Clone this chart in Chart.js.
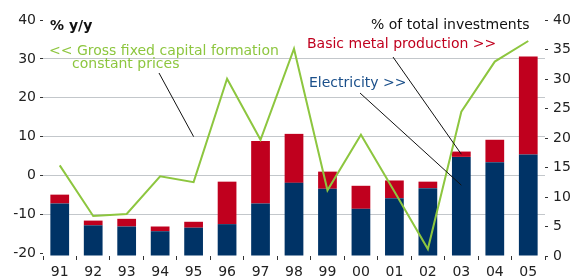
<!DOCTYPE html>
<html>
<head>
<meta charset="utf-8">
<script src="https://cdn.jsdelivr.net/npm/chart.js@4/dist/chart.umd.min.js"></script>
<style>
  html, body { margin: 0; padding: 0; background: #fff; }
  #wrap { width: 579px; height: 278px; }
</style>
</head>
<body>
<div id="wrap"><canvas id="chart"></canvas></div>
<script>
// years on the x axis
const years = ["91", "92", "93", "94", "95", "96", "97", "98", "99", "00", "01", "02", "03", "04", "05"];
// gross fixed capital formation, constant prices, % y/y (left axis)
const gfcf = [2.6, -10.4, -9.9, -0.2, -1.7, 24.9, 9.2, 32.6, -3.8, 10.5, -4.1, -18.9, 16.4, 29.3, 34.6];
// share of total investments, % (right axis)
const electricity = [8.9, 5.2, 5.0, 4.2, 4.8, 5.4, 8.9, 12.4, 11.4, 8.0, 9.8, 11.5, 16.8, 15.9, 17.2];
const basicMetal = [1.5, 0.8, 1.3, 0.8, 1.0, 7.2, 10.6, 8.3, 2.9, 3.9, 3.0, 1.1, 0.9, 3.8, 16.6];
// tick labels
const leftTicks = [-20, -10, 0, 10, 20, 30, 40];
const rightTicks = [0, 5, 10, 15, 20, 25, 30, 35, 40];

const NAVY = "#003366";
const RED = "#c0001e";
const GREEN = "#8dc63f";
const FONT = "DejaVu Sans";

// text labels and leader lines
const notes = {
  id: "notes",
  afterDatasetsDraw(chart) {
    const ctx = chart.ctx;
    const x = chart.scales.x;
    const yL = chart.scales.yL;
    const yR = chart.scales.yR;
    ctx.save();
    ctx.textBaseline = "middle";
    ctx.textAlign = "left";

    ctx.font = "bold 14px " + FONT;
    ctx.fillStyle = "#111";
    ctx.fillText("% y/y", 50, 26);

    ctx.font = "14px " + FONT;
    ctx.fillText("% of total investments", 371, 25);

    ctx.fillStyle = GREEN;
    ctx.fillText("<< Gross fixed capital formation", 49, 51);
    ctx.fillText("constant prices", 72, 64);

    ctx.fillStyle = RED;
    ctx.fillText("Basic metal production >>", 307, 44);

    ctx.fillStyle = "#1a4f8a";
    ctx.fillText("Electricity >>", 309, 83);

    // leader lines
    ctx.strokeStyle = "#111";
    ctx.lineWidth = 1;
    const i95 = years.indexOf("95");
    const i03 = years.indexOf("03");
    const lines = [
      [159, 73, x.getPixelForValue(i95), yL.getPixelForValue(10)],
      [393, 57, x.getPixelForValue(i03), yR.getPixelForValue(electricity[i03] + basicMetal[i03] / 2)],
      [360, 93, x.getPixelForValue(i03), yR.getPixelForValue(12)]
    ];
    for (const l of lines) {
      ctx.beginPath();
      ctx.moveTo(l[0], l[1]);
      ctx.lineTo(l[2], l[3]);
      ctx.stroke();
    }
    ctx.restore();
  }
};

let ctx = document.getElementById("chart");
let chart = new Chart(ctx, {
  data: {
    labels: years,
    datasets: [
      {
        type: "line",
        label: "Gross fixed capital formation",
        data: gfcf,
        yAxisID: "yL",
        borderColor: GREEN,
        borderWidth: 2,
        pointRadius: 0,
        tension: 0,
        order: 0
      },
      {
        type: "bar",
        label: "Electricity",
        data: electricity,
        yAxisID: "yR",
        backgroundColor: NAVY,
        stack: "s",
        barPercentage: 0.56,
        categoryPercentage: 1,
        order: 1
      },
      {
        type: "bar",
        label: "Basic metal production",
        data: basicMetal,
        yAxisID: "yR",
        backgroundColor: RED,
        stack: "s",
        barPercentage: 0.56,
        categoryPercentage: 1,
        order: 1
      }
    ]
  },
  options: {
    responsive: true,
    maintainAspectRatio: false,
    animation: false,
    devicePixelRatio: 1,
    layout: { padding: { top: 20, left: 0, right: 0, bottom: 0 } },
    plugins: {
      legend: { display: false },
      tooltip: { enabled: false }
    },
    scales: {
      x: {
        stacked: true,
        border: { display: false },
        grid: {
          offset: true,
          drawOnChartArea: false,
          tickLength: 4,
          tickColor: "#333"
        },
        ticks: {
          color: "#222",
          padding: 4,
          maxRotation: 0,
          font: { family: FONT, size: 14 }
        },
        afterFit(s) { s.height = 22; }
      },
      yL: {
        position: "left",
        min: -20.7,
        max: 40,
        border: { display: false },
        afterBuildTicks(axis) {
          axis.ticks = leftTicks.map(v => ({ value: v }));
        },
        grid: {
          tickLength: 3,
          tickColor: "#333",
          color: c => (c.tick && (c.tick.value === 40 || c.tick.value === -20)) ? "rgba(0,0,0,0)" : "#c3c7cb"
        },
        ticks: {
          color: "#222",
          padding: 4,
          font: { family: FONT, size: 14 }
        },
        afterFit(s) { s.width = 43; }
      },
      yR: {
        position: "right",
        stacked: true,
        min: 0,
        max: 40,
        border: { display: false },
        afterBuildTicks(axis) {
          axis.ticks = rightTicks.map(v => ({ value: v }));
        },
        grid: {
          drawOnChartArea: false,
          tickLength: 3,
          tickColor: "#333"
        },
        ticks: {
          color: "#222",
          padding: 5,
          font: { family: FONT, size: 14 }
        },
        afterFit(s) { s.width = 34; }
      }
    }
  },
  plugins: [notes]
});
</script>
</body>
</html>
